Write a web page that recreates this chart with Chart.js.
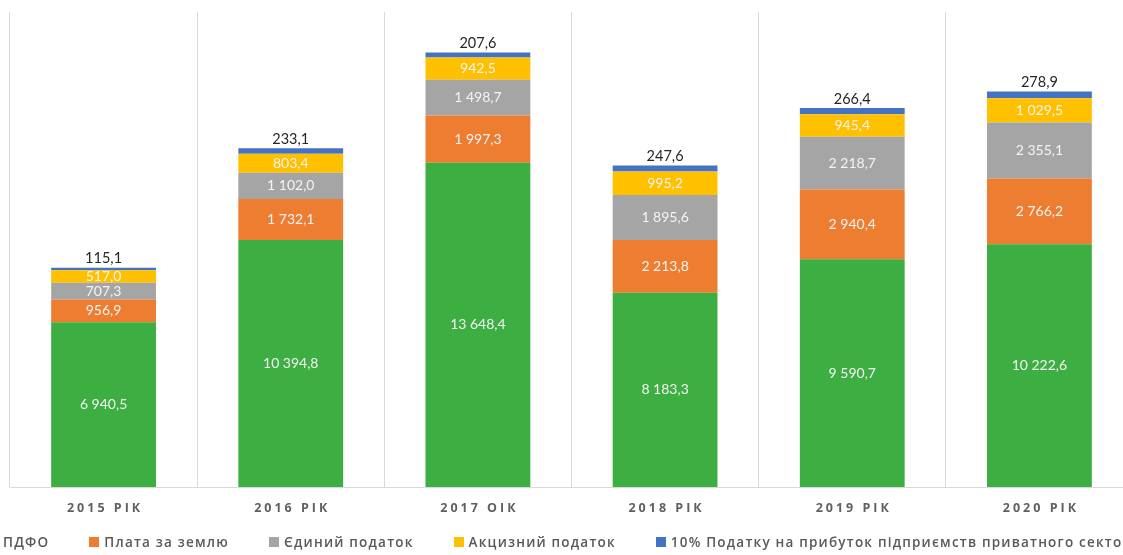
<!DOCTYPE html>
<html>
<head>
<meta charset="utf-8">
<script src="https://cdn.jsdelivr.net/npm/chart.js@4"></script>
<style>
    html, body { margin: 0; padding: 0; background: #fff; overflow: hidden; width: 1123px; height: 555px; }
    #wrap { position: absolute; left: -20px; top: 0; width: 1160px; height: 555px; }
    #legend {
        position: absolute; left: -12px; top: 532px; height: 20px;
        display: flex; align-items: center; white-space: nowrap;
        font-family: "Open Sans", sans-serif; font-size: 13.5px; font-weight: 600;
        letter-spacing: 1.2px; color: #595959;
    }
    #legend .item { display: flex; align-items: center; margin-right: 40px; }
    #legend .box { width: 10px; height: 10px; margin-right: 5px; }
</style>
</head>
<body>
<div id="wrap"><canvas id="myChart"></canvas></div>
<div id="legend"></div>
<script>
const years = ['2015 РІК', '2016 РІК', '2017 ОІК', '2018 РІК', '2019 РІК', '2020 РІК'];
const pdfo = [6940.5, 10394.8, 13648.4, 8183.3, 9590.7, 10222.6];
const landFee = [956.9, 1732.1, 1997.3, 2213.8, 2940.4, 2766.2];
const singleTax = [707.3, 1102.0, 1498.7, 1895.6, 2218.7, 2355.1];
const exciseTax = [517.0, 803.4, 942.5, 995.2, 945.4, 1029.5];
const profitTax = [115.1, 233.1, 207.6, 247.6, 266.4, 278.9];

function fmt(n) {
    const parts = n.toFixed(1).split('.');
    const whole = parts[0].replace(/\B(?=(\d{3})+(?!\d))/g, ' ');
    return whole + ',' + parts[1];
}

// value labels inside segments + totals on top + category names
const valueLabels = {
    id: 'valueLabels',
    afterDatasetsDraw(chart) {
        const ctx = chart.ctx;
        ctx.save();
        ctx.textAlign = 'center';
        ctx.textBaseline = 'middle';
        chart.data.datasets.forEach((ds, i) => {
            const meta = chart.getDatasetMeta(i);
            meta.data.forEach((bar, j) => {
                const txt = fmt(ds.data[j]);
                if (i === 4) {
                    ctx.fillStyle = '#262626';
                    ctx.font = '14.5px Lato';
                    ctx.fillText(txt, bar.x, bar.y - 9);
                } else {
                    ctx.fillStyle = '#f4f4f4';
                    ctx.font = '14px Lato';
                    ctx.fillText(txt, bar.x, (bar.y + bar.base) / 2);
                }
            });
        });
        const xs = chart.scales.x;
        ctx.fillStyle = '#606060';
        ctx.font = 'bold 12.5px "Open Sans"';
        ctx.letterSpacing = '3px';
        years.forEach((y, j) => {
            ctx.fillText(y, xs.getPixelForValue(j) + 1.5, xs.top + 21);
        });
        ctx.restore();
    }
};

const data = {
    labels: years,
    datasets: [
        { label: 'ПДФО', data: pdfo, backgroundColor: '#3dae42' },
        { label: 'Плата за землю', data: landFee, backgroundColor: '#ed7d31' },
        { label: 'Єдиний податок', data: singleTax, backgroundColor: '#a5a5a5' },
        { label: 'Акцизний податок', data: exciseTax, backgroundColor: '#ffc000' },
        { label: '10% Податку на прибуток підприємств приватного сектору', data: profitTax, backgroundColor: '#4472c4' }
    ]
};

const config = {
    type: 'bar',
    data: data,
    options: {
        responsive: true,
        maintainAspectRatio: false,
        animation: false,
        datasets: {
            bar: { categoryPercentage: 0.8, barPercentage: 0.7, borderWidth: 0 }
        },
        layout: {
            padding: { top: 12, left: 30, right: 7, bottom: 0 }
        },
        plugins: {
            tooltip: { enabled: false },
            legend: { display: false }
        },
        scales: {
            x: {
                stacked: true,
                grid: { color: '#d9d9d9', drawTicks: false, offset: true },
                border: { color: '#d9d9d9' },
                ticks: { display: false },
                afterFit(scale) { scale.height = 68; }
            },
            y: {
                stacked: true,
                display: false,
                min: 0,
                max: 20000
            }
        }
    },
    plugins: [valueLabels]
};

const myChart = new Chart(document.getElementById('myChart'), config);

// legend built from the chart's own datasets
const legendBox = document.getElementById('legend');
myChart.data.datasets.forEach(ds => {
    const item = document.createElement('div');
    item.className = 'item';
    const box = document.createElement('span');
    box.className = 'box';
    box.style.background = ds.backgroundColor;
    const text = document.createElement('span');
    text.textContent = ds.label;
    item.appendChild(box);
    item.appendChild(text);
    legendBox.appendChild(item);
});
</script>
</body>
</html>
